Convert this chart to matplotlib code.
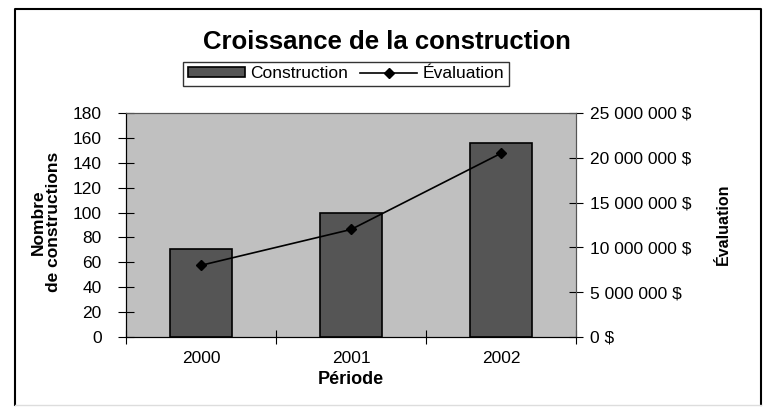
import matplotlib.pyplot as plt
from matplotlib.lines import Line2D
from matplotlib.ticker import FuncFormatter

plt.rcParams['font.family'] = ['Liberation Sans', 'DejaVu Sans']

periodes = ['2000', '2001', '2002']
constructions = [71, 100, 156]
evaluation = [8000000, 12000000, 20500000]

fig = plt.figure(figsize=(7.65, 4.07), dpi=100)

# cadre autour du graphique (gauche, haut, droite, bas pâle)
x0, x1, y0, y1 = 15 / 765, 761 / 765, 1 - 405 / 407, 1 - 9 / 407
fig.add_artist(Line2D([x0, x0, x1, x1], [y0, y1, y1, y0], transform=fig.transFigure,
                      color='black', linewidth=1.5))
fig.add_artist(Line2D([x0, x1], [y0, y0], transform=fig.transFigure,
                      color='#dddddd', linewidth=1))

ax1 = fig.add_axes([126 / 765, 70 / 407, 450 / 765, 224 / 407])
ax1.set_facecolor('#c0c0c0')
x = range(len(periodes))
ax1.bar(x, constructions, width=0.41, color='#555555', edgecolor='black', linewidth=1.2,
        label='Construction', zorder=2)
ax1.set_xlim(-0.5, 2.5)
ax1.set_ylim(0, 180)
ax1.set_yticks(range(0, 181, 20))
ax1.set_xticks([-0.5, 0.5, 1.5, 2.5])
ax1.set_xticklabels([])
ax1.set_xticks(list(x), minor=True)
ax1.set_xticklabels(periodes, minor=True)
ax1.tick_params(axis='x', which='major', direction='inout', length=10)
ax1.tick_params(axis='x', which='minor', length=0, pad=10, labelsize=12.5)
ax1.tick_params(axis='y', direction='inout', length=11, pad=12, labelsize=12.5)

ax2 = ax1.twinx()
ax2.plot(x, evaluation, color='black', linewidth=1.2, marker='D', markersize=5,
         label='Évaluation', zorder=3)
ax2.set_ylim(0, 25000000)
ax2.set_yticks(range(0, 25000001, 5000000))
ax2.yaxis.set_major_formatter(FuncFormatter(lambda v, p: f'{int(v):,} $'.replace(',', ' ')))
ax2.tick_params(axis='y', direction='inout', length=10, pad=5, labelsize=12.5)

for ax in (ax1, ax2):
    ax.spines['top'].set_color('#555555')
    ax.spines['right'].set_color('#555555')

fig.text(387 / 765, 1 - 42 / 407, 'Croissance de la construction', ha='center', va='center',
         fontsize=18.5, fontweight='bold')
fig.text(351 / 765, 1 - 379 / 407, 'Période', ha='center', va='center', fontsize=13,
         fontweight='bold')
fig.text(46 / 765, 1 - 222 / 407, 'Nombre\nde constructions', ha='center', va='center',
         rotation=90, fontsize=12.5, fontweight='bold', linespacing=1.0,
         family=['Liberation Sans Narrow', 'Liberation Sans'])
fig.text(723 / 765, 1 - 224 / 407, 'Évaluation', ha='center', va='center', rotation=90,
         fontsize=11.5, fontweight='bold', family=['Liberation Sans Narrow', 'Liberation Sans'])

h1, l1 = ax1.get_legend_handles_labels()
h2, l2 = ax2.get_legend_handles_labels()
leg = fig.legend(h1 + h2, l1 + l2, loc='center', bbox_to_anchor=(346 / 765, 1 - 74 / 407),
                 ncol=2, frameon=True, fancybox=False, fontsize=12.5, handlelength=3.3,
                 handleheight=0.5, columnspacing=0.7, handletextpad=0.3, borderpad=0.25,
                 borderaxespad=0)
leg.get_frame().set_edgecolor('black')
leg.get_frame().set_linewidth(1)

fig.savefig('out.png', dpi=100)
